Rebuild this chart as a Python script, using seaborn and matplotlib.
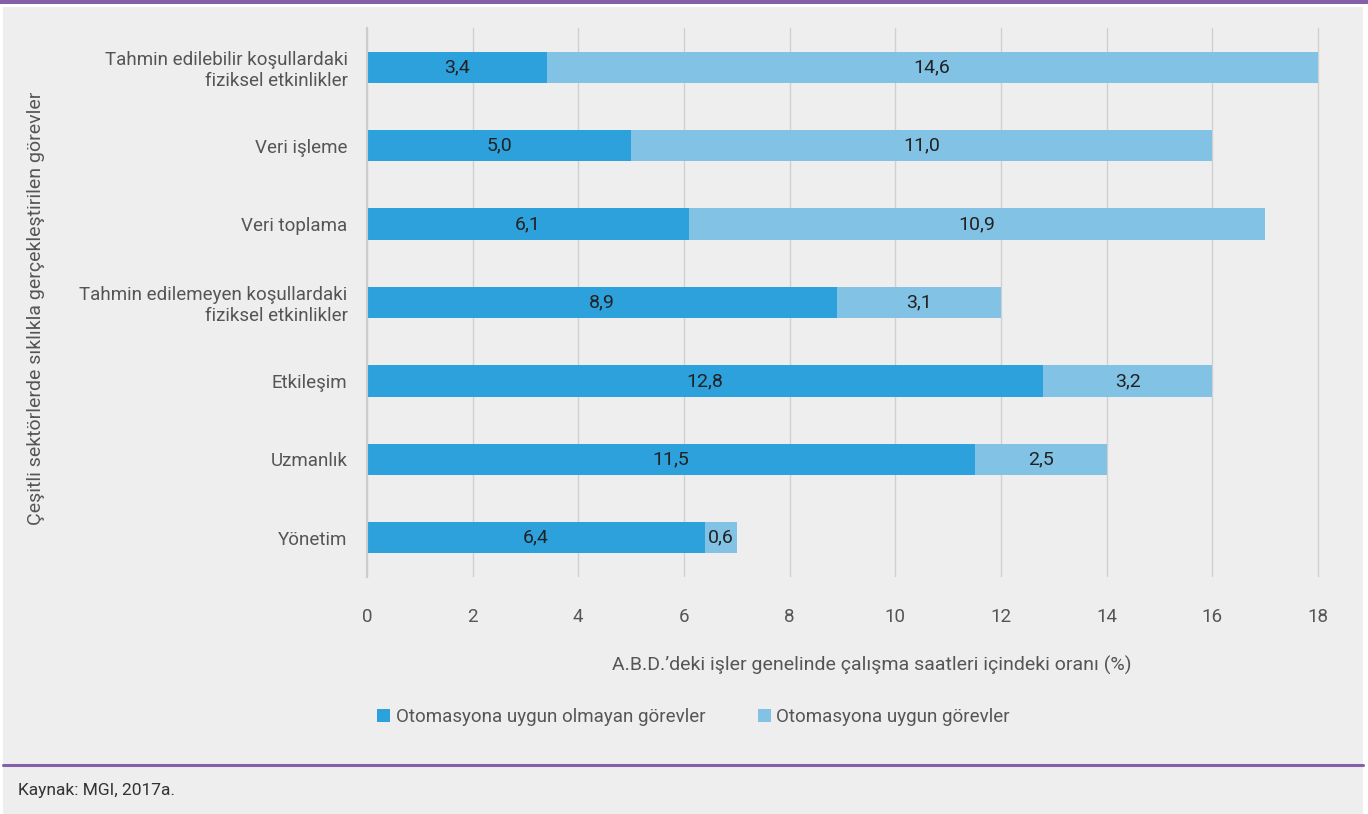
import matplotlib
matplotlib.use("Agg")
import matplotlib.pyplot as plt
import seaborn as sns
import pandas as pd
from matplotlib.patches import Rectangle
from matplotlib.lines import Line2D

categories = ["Tahmin edilebilir koşullardaki\nfiziksel etkinlikler", "Veri işleme", "Veri toplama",
              "Tahmin edilemeyen koşullardaki\nfiziksel etkinlikler", "Etkileşim", "Uzmanlık", "Yönetim"]
not_automatable = [3.4, 5.0, 6.1, 8.9, 12.8, 11.5, 6.4]
automatable = [14.6, 11.0, 10.9, 3.1, 3.2, 2.5, 0.6]
series_names = ["Otomasyona uygun olmayan görevler", "Otomasyona uygun görevler"]
xticks = [0, 2, 4, 6, 8, 10, 12, 14, 16, 18]

sns.set_theme(style="white")
plt.rcParams['font.family'] = ['Roboto', 'DejaVu Sans']

dark = "#2ca1dc"
light = "#82c3e5"
txt = "#555555"
bg = "#eeeeee"

fig = plt.figure(figsize=(13.68, 8.14), dpi=100)
fig.patch.set_facecolor("white")
fig.add_artist(Rectangle((3/1368, 0), 1360/1368, 1 - 7/814, transform=fig.transFigure,
                         facecolor=bg, edgecolor="none", zorder=0))
fig.add_artist(Rectangle((0, 1 - 4/814), 1, 4/814, transform=fig.transFigure,
                         facecolor="#8560a8", edgecolor="none", zorder=1))
fig.add_artist(Line2D([3/1368, 1363/1368], [1 - 765/814, 1 - 765/814], transform=fig.transFigure,
                      color="#8560a8", lw=2.2, zorder=1))

ax = fig.add_axes([367/1368, 1 - 577/814, (1320 - 367)/1368, (577 - 28)/814])
ax.set_facecolor(bg)

df = pd.DataFrame({"cat": categories, "a": not_automatable, "b": automatable})
df["total"] = df["a"] + df["b"]

sns.barplot(data=df, y="cat", x="total", color=light, orient="h", width=0.4, ax=ax,
            saturation=1, label=series_names[1], linewidth=0)
sns.barplot(data=df, y="cat", x="a", color=dark, orient="h", width=0.4, ax=ax,
            saturation=1, label=series_names[0], linewidth=0)

for i, (a, b) in enumerate(zip(not_automatable, automatable)):
    ax.text(a / 2, i, f"{a:.1f}".replace(".", ","), ha="center", va="center",
            fontsize=14, color="#222222")
    ax.text(a + b / 2, i, f"{b:.1f}".replace(".", ","), ha="center", va="center",
            fontsize=14, color="#222222")

ax.set_xlim(0, 18.04)
ax.set_ylim(6.5, -0.5)
ax.set_xticks(xticks)
ax.set_xticklabels([str(t) for t in xticks], fontsize=13.5, color=txt)
ax.tick_params(axis="x", length=0, pad=22)
ax.tick_params(axis="y", length=0, pad=14, labelsize=13.5, labelcolor=txt)
for lab in ax.get_yticklabels():
    lab.set_horizontalalignment("right")
    lab.set_multialignment("right")
ax.grid(axis="x", color="#d0d0d0", lw=1)
ax.set_axisbelow(True)
for s in ["top", "right", "bottom"]:
    ax.spines[s].set_visible(False)
ax.spines["left"].set_color("#cccccc")
ax.spines["left"].set_linewidth(1.5)
ax.set_ylabel("")
ax.set_xlabel("")

handles, labels = ax.get_legend_handles_labels()
if ax.get_legend() is not None:
    ax.get_legend().remove()

fig.text(872/1368, 1 - 665/814, "A.B.D.\u2019deki işler genelinde çalışma saatleri içindeki oranı (%)",
         ha="center", va="center", fontsize=14, color=txt)
fig.text(36/1368, 1 - 308/814, "Çeşitli sektörlerde sıklıkla gerçekleştirilen görevler",
         ha="center", va="center", rotation=90, fontsize=14, color=txt)

order = [labels.index(series_names[0]), labels.index(series_names[1])]
fig.legend([handles[k] for k in order], [labels[k] for k in order],
           loc="center left", bbox_to_anchor=(360/1368, 1 - 717/814), ncol=2, frameon=False,
           fontsize=13.5, handlelength=0.7, handleheight=0.7, handletextpad=0.3,
           columnspacing=2.8, labelcolor=txt)

fig.text(18/1368, 1 - 791/814, "Kaynak: MGI, 2017a.", ha="left", va="center", fontsize=12.5, color="#333333")

fig.savefig("out.png", dpi=100, facecolor=fig.get_facecolor())
